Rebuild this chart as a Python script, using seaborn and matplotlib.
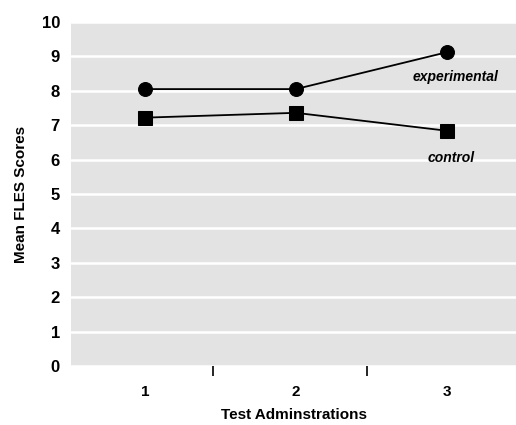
import matplotlib
matplotlib.use("Agg")
import matplotlib.pyplot as plt
import seaborn as sns
import pandas as pd

administrations = [1, 2, 3]
experimental = [8.05, 8.05, 9.12]
control = [7.22, 7.36, 6.84]
groups = ["experimental", "control"]
y_ticks = list(range(0, 11))
divider_ticks = [1.45, 2.47]

df = pd.DataFrame({
    "admin": administrations * 2,
    "score": experimental + control,
    "group": [groups[0]] * 3 + [groups[1]] * 3,
})

sns.set_theme(style="white")
plt.rcParams["font.family"] = ["Liberation Sans", "DejaVu Sans"]

fig = plt.figure(figsize=(5.16, 4.25), dpi=100)
ax = fig.add_axes([0.1376, 0.1388, 0.8624, 0.8094])
ax.set_facecolor("#e3e3e3")

sns.lineplot(data=df, x="admin", y="score", hue="group", style="group",
             markers={"experimental": "o", "control": "s"}, dashes=False,
             palette={"experimental": "black", "control": "black"},
             markersize=10, linewidth=1.3, legend=False, ax=ax,
             markeredgecolor="black")

ax.set_xlim(0.51, 3.46)
ax.set_ylim(0, 10)
ax.set_yticks(y_ticks)
ax.set_yticklabels([str(t) for t in y_ticks], fontsize=12, fontweight="bold", color="black")
ax.set_xticks(administrations)
ax.set_xticklabels([str(a) for a in administrations], fontsize=11, fontweight="bold", color="black")
ax.set_xticks(divider_ticks, minor=True)
ax.tick_params(axis="x", which="major", length=0, pad=14)
ax.tick_params(axis="x", which="minor", bottom=True, length=7, width=1.2,
               color="black", direction="out")
ax.tick_params(axis="y", length=0, pad=8)
ax.yaxis.grid(True, color="white", linewidth=1.8)
ax.xaxis.grid(False)
ax.set_axisbelow(True)
for s in ax.spines.values():
    s.set_visible(False)

ax.set_xlabel("Test Adminstrations", fontsize=11, fontweight="bold", labelpad=6, color="black")
ax.set_ylabel("Mean FLES Scores", fontsize=11, fontweight="bold", labelpad=10, color="black")

ax.text(3.06, 8.4, "experimental", fontsize=10, fontweight="bold", style="italic",
        ha="center", va="center", color="black")
ax.text(3.03, 6.05, "control", fontsize=10, fontweight="bold", style="italic",
        ha="center", va="center", color="black")

fig.savefig("out.png", dpi=100)
